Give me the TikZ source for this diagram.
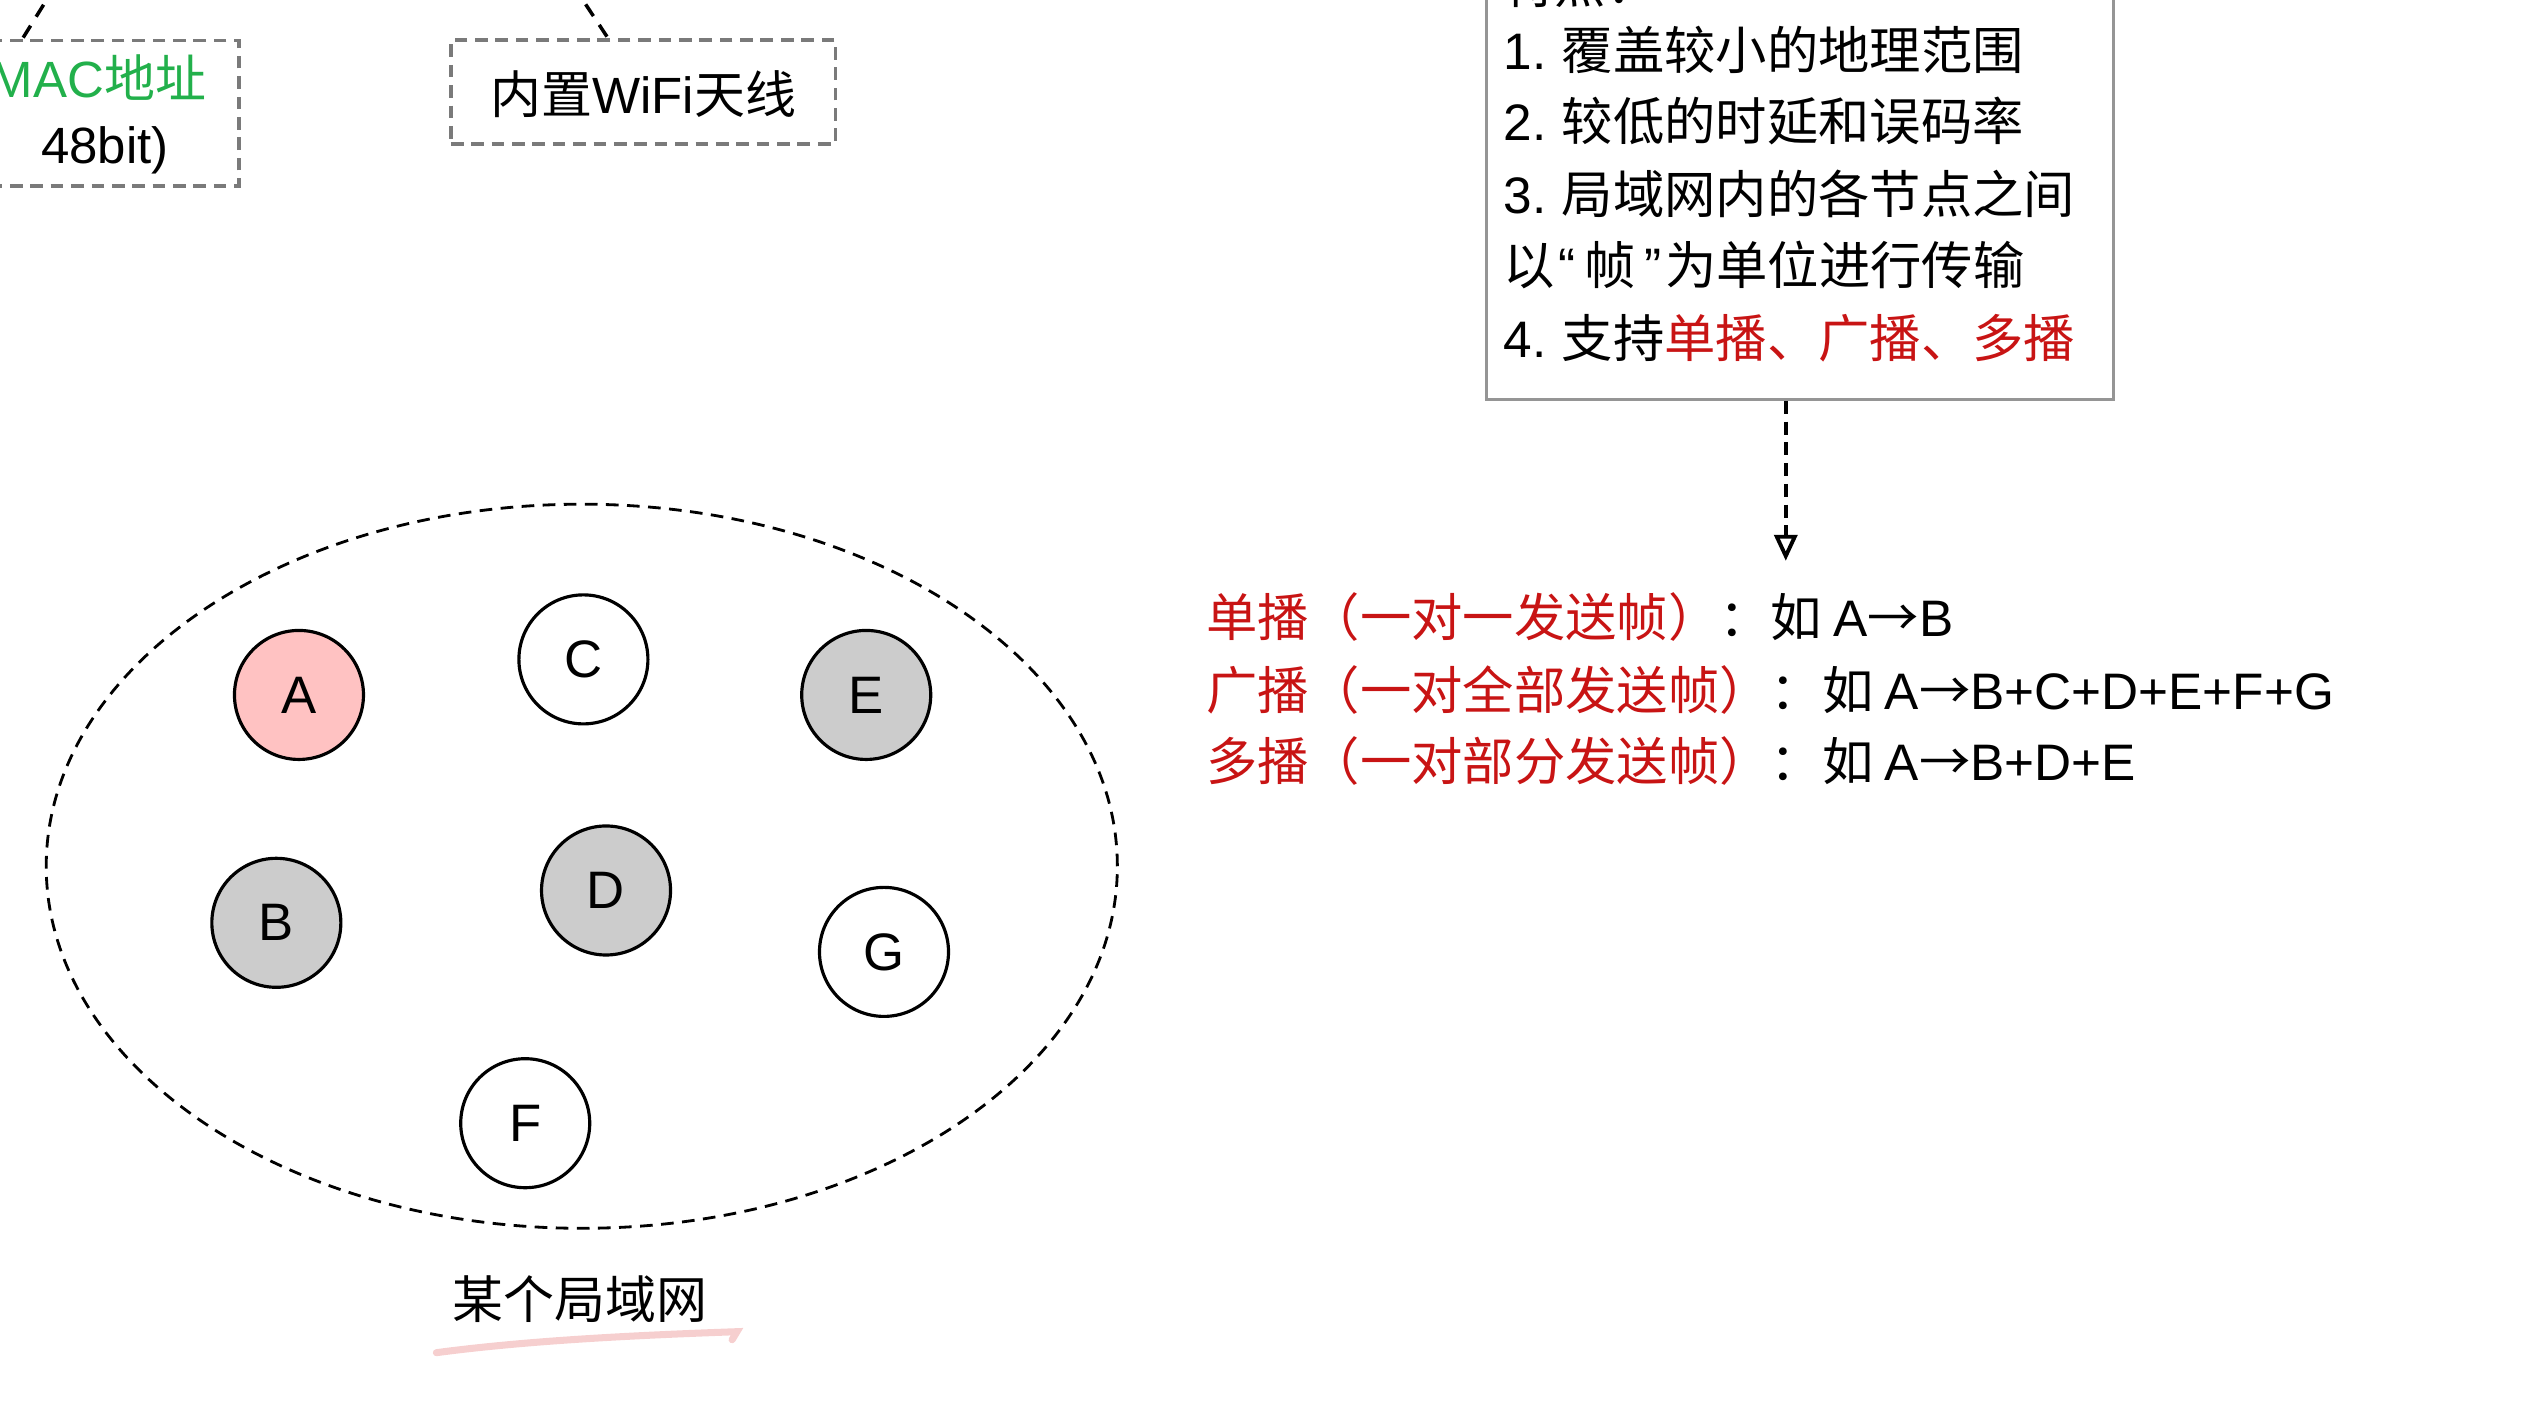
\documentclass[tikz,border=0pt]{standalone}
\usepackage{fontspec}
\setmainfont{Noto Sans CJK SC}
\newfontfamily\lsans{Liberation Sans}
\usepackage{xcolor}
\usepackage{tikz}
\usetikzlibrary{arrows.meta,positioning,shapes.geometric,calc}
\definecolor{hostpink}{HTML}{FFC2C2}
\definecolor{hostgray}{HTML}{CCCCCC}
\definecolor{boxgray}{HTML}{7A7A7A}
\definecolor{castred}{HTML}{C81414}
\definecolor{macgreen}{HTML}{22B04B}
\definecolor{notepink}{HTML}{F6CFCF}
\tikzset{
  lanhost/.style={circle, draw, line width=0.9pt, minimum size=1.29cm, inner sep=0pt, font=\lsans\fontsize{15}{18}\selectfont},
  lanzone/.style={ellipse, draw, line width=0.8pt, dash pattern=on 3.6pt off 2.4pt, inner sep=0pt},
  partbox/.style={draw=boxgray, line width=1.1pt, dash pattern=on 3.6pt off 2.2pt, inner sep=0pt},
  featbox/.style={draw=boxgray!80, line width=0.9pt, inner sep=0pt},
  textline/.style={anchor=base west, inner sep=0pt, font=\fontsize{14.6}{20}\selectfont},
  plainlabel/.style={inner sep=0pt, font=\fontsize{14.5}{20}\selectfont},
  linkline/.style={line width=1pt, dash pattern=on 4pt off 3pt},
  noteflow/.style={-{Triangle[open, length=0.26cm, width=0.23cm]}, line width=1.1pt, dash pattern=on 3.7pt off 2.2pt}
}

\begin{document}
\begin{tikzpicture}[x=0.01616cm, y=-0.01616cm, node distance=0.5cm]
  \useasboundingbox (0,0) rectangle (1568,877);
  \clip (0,0) rectangle (1568,877);

  % parts of the host, top left
  \node[partbox, minimum width=4.33cm, minimum height=1.454cm] (macbox) at (14,70) {};
  \node[plainlabel, anchor=east] (mactext) at (128,48) {\textcolor{macgreen}{{\lsans MAC}地址}};
  \node[plainlabel] (macbits) at (65,93) {\lsans 48bit)};
  \node[partbox, minimum width=3.846cm, minimum height=1.034cm] (wifibox) at (398,57) {};
  \node[plainlabel] (wifitext) at (398,58) {内置{\lsans WiFi}天线};
  \coordinate (macsrc) at (35,-10);
  \coordinate (wifisrc) at (354,-10);
  \draw[linkline] (macsrc) -- (macbox.north);
  \draw[linkline] (wifisrc) -- ($(wifibox.north west)!0.41!(wifibox.north east)$);

  % features of a LAN
  \node[featbox, anchor=south west, minimum width=6.27cm, minimum height=4.98cm] (feat) at (919,248) {};
  \node[textline] (feat0) at (930,2) {特点：};
  \node[textline] (feat1) at (930,43) {{\lsans 1.} 覆盖较小的地理范围};
  \node[textline] (feat2) at (930,87) {{\lsans 2.} 较低的时延和误码率};
  \node[textline] (feat3) at (930,132) {{\lsans 3.} 局域网内的各节点之间};
  \node[textline] (feat4) at (930,176) {以\kern1pt{\lsans “}\kern2.5pt帧\kern2.5pt{\lsans ”}\kern1pt为单位进行传输};
  \node[textline] (feat5) at (930,221) {{\lsans 4.} 支持\textcolor{castred}{单播、广播、多播}};

  \coordinate (casttop) at (1105,347);
  \draw[noteflow] (casttop |- feat.south) -- (casttop);

  % three ways to send a frame
  \node[textline] (unicast) at (746,394) {\textcolor{castred}{单播（一对一发送帧）}：如 {\lsans A}→{\lsans B}};
  \node[textline] (broadcast) at (746,439) {\textcolor{castred}{广播（一对全部发送帧）}：如 {\lsans A}→{\lsans B+C+D+E+F+G}};
  \node[textline] (multicast) at (746,483) {\textcolor{castred}{多播（一对部分发送帧）}：如 {\lsans A}→{\lsans B+D+E}};

  % the LAN and its hosts
  \node[lanzone, minimum width=10.71cm, minimum height=7.24cm] (lan) at (360,536) {};
  \node[lanhost, fill=hostpink] (hostA) at (185,430) {A};
  \node[lanhost] (hostC) at (361,408) {C};
  \node[lanhost, fill=hostgray] (hostE) at (536,430) {E};
  \node[lanhost, fill=hostgray] (hostB) at (171,571) {B};
  \node[lanhost, fill=hostgray] (hostD) at (375,551) {D};
  \node[lanhost] (hostG) at (547,589) {G};
  \node[lanhost] (hostF) at (325,695) {F};

  \node[plainlabel] (lanname) at (359,804) {某个局域网};
  \draw[notepink, line width=2pt, line cap=round] (270,837) .. controls (330,829) and (400,826) .. (456,824) -- (453,829);
\end{tikzpicture}
\end{document}
